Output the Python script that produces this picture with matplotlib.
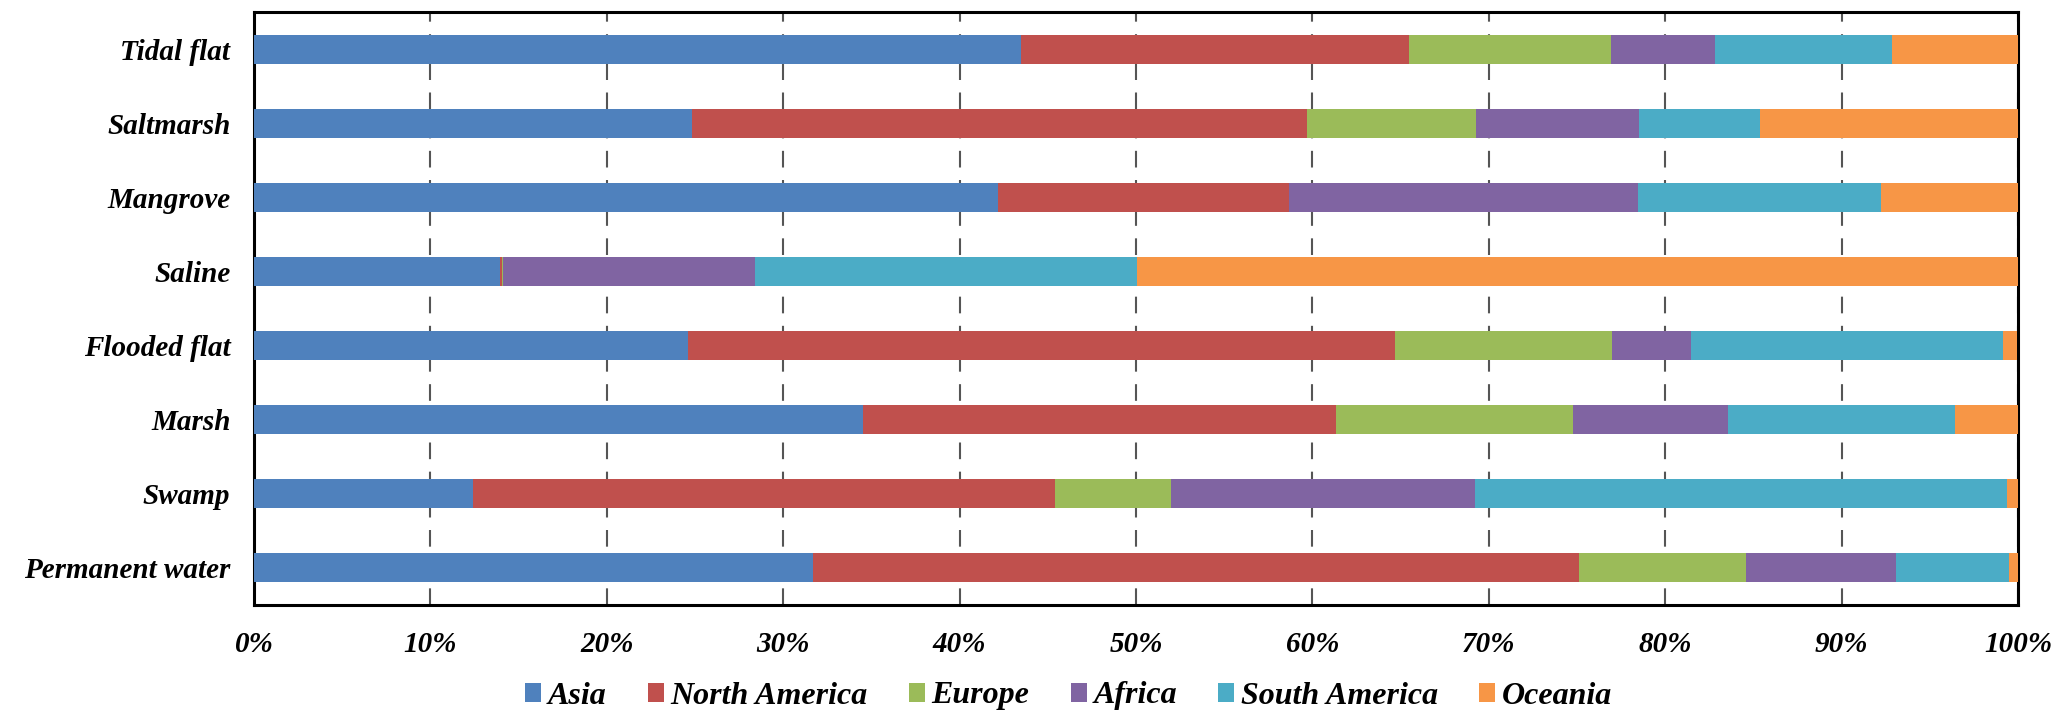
import matplotlib.pyplot as plt
from matplotlib.ticker import PercentFormatter

# wetland types, listed bottom to top as in the chart
categories = ['Permanent water', 'Swamp', 'Marsh', 'Flooded flat',
              'Saline', 'Mangrove', 'Saltmarsh', 'Tidal flat']
regions = ['Asia', 'North America', 'Europe', 'Africa', 'South America', 'Oceania']

# shares in percent, same order as categories
asia          = [31.7, 12.4, 34.5, 24.6, 13.97, 42.2, 24.8, 43.5]
north_america = [43.4, 33.0, 26.85, 40.1, 0.1, 16.5, 34.9, 22.0]
europe        = [9.5, 6.6, 13.4, 12.3, 0.05, 0.0, 9.6, 11.4]
africa        = [8.5, 17.2, 8.8, 4.45, 14.26, 19.75, 9.2, 5.95]
south_america = [6.4, 30.2, 12.85, 17.7, 21.66, 13.8, 6.9, 10.0]
oceania       = [0.5, 0.6, 3.65, 0.8, 49.96, 7.8, 14.6, 7.15]

colors = ['#4F81BD', '#C0504D', '#9BBB59', '#8064A2', '#4BACC6', '#F79646']

series = [asia, north_america, europe, africa, south_america, oceania]

plt.rcParams['font.family'] = ['Liberation Serif', 'DejaVu Serif']

fig = plt.figure(figsize=(20.67, 7.25), dpi=100)
ax = fig.add_axes([0.1229, 0.1655, 0.8534, 0.8179])

left = [0.0] * len(categories)
for name, vals, c in zip(regions, series, colors):
    ax.barh(categories, vals, left=left, height=0.39, color=c, label=name, zorder=3)
    left = [l + v for l, v in zip(left, vals)]

ax.set_xlim(0, 100)
ax.set_ylim(-0.5, len(categories) - 0.5)
ax.set_xticks(range(0, 101, 10))
ax.xaxis.set_major_formatter(PercentFormatter(decimals=0))
ax.grid(axis='x', linestyle=(0, (8, 6)), color='#555555', linewidth=1.5, zorder=0)
ax.tick_params(length=0)
ax.tick_params(axis='x', pad=19)
ax.tick_params(axis='y', pad=17)
for lbl in ax.get_xticklabels() + ax.get_yticklabels():
    lbl.set_fontsize(21)
    lbl.set_fontweight('bold')
    lbl.set_fontstyle('italic')
for sp in ax.spines.values():
    sp.set_linewidth(2.2)
    sp.set_color('black')

leg = fig.legend(loc='center', bbox_to_anchor=(0.517, 0.04), ncol=6, frameon=False,
                 prop={'size': 23, 'weight': 'bold', 'style': 'italic'},
                 handlelength=0.5, handleheight=0.55, handletextpad=0.2,
                 columnspacing=1.3)

fig.savefig('out.png', dpi=100)
